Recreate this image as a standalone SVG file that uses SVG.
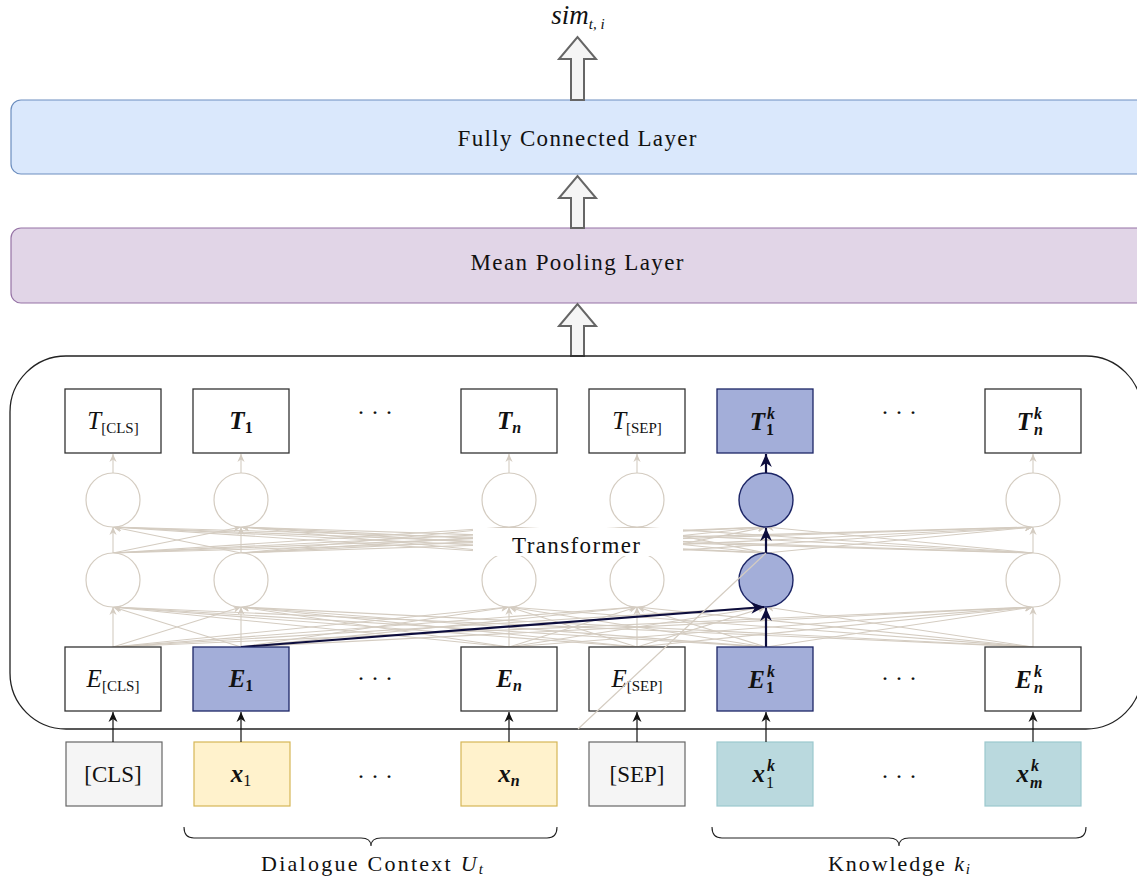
<svg xmlns="http://www.w3.org/2000/svg" width="1137" height="876" viewBox="0 0 1137 876" font-family="'Liberation Serif', 'DejaVu Serif', serif">
  <style>
    text { font-family: "Liberation Serif", "DejaVu Serif", serif; fill: #111; }
    .i { font-style: italic; }
    .bi { font-style: italic; font-weight: bold; }
    .b { font-weight: bold; }
    .lbl { font-size: 25px; }
    .sub { font-size: 16px; }
    .tsub { font-size: 15px; }
    .f { stroke: #d4ccc1; stroke-width: 1.1; fill: none; marker-end: url(#ah-light); }
    .v { stroke: #d4ccc1; stroke-width: 1.1; fill: none; marker-end: url(#ah-light); }
    .h { stroke: #0d0d3d; stroke-width: 2.2; fill: none; marker-end: url(#ah-dark); }
    .in { stroke: #111; stroke-width: 1.2; fill: none; marker-end: url(#ah-black); }
    .box { fill: #ffffff; stroke: #333333; stroke-width: 1.3; }
    .hbox { fill: #a3aed9; stroke: #1c2566; stroke-width: 1.3; }
    .node { fill: #ffffff; stroke: #d4ccc1; stroke-width: 1.2; }
    .hnode { fill: #a3aed9; stroke: #1c2566; stroke-width: 1.4; }
    .tok { fill: #f5f5f5; stroke: #666666; stroke-width: 1.2; }
    .ctx { fill: #fff2cc; stroke: #d6b656; stroke-width: 1.2; }
    .kn { fill: #bad9de; stroke: #9cc8ce; stroke-width: 1.2; }
    .fat { fill: #f5f5f5; stroke: #666666; stroke-width: 2; }
    .dots { font-size: 24px; }
    .brace { fill: none; stroke: #222; stroke-width: 1.1; }
  </style>
  <defs>
    <marker id="ah-light" viewBox="0 0 10 10" refX="10" refY="5" markerWidth="8" markerHeight="8" markerUnits="userSpaceOnUse" orient="auto">
      <path d="M0,0.5 L10,5 L0,9.5 L3,5 z" fill="#d4ccc1"/>
    </marker>
    <marker id="ah-dark" viewBox="0 0 10 10" refX="10" refY="5" markerWidth="13" markerHeight="13" markerUnits="userSpaceOnUse" orient="auto">
      <path d="M0,0.5 L10,5 L0,9.5 L3,5 z" fill="#0d0d3d"/>
    </marker>
    <marker id="ah-black" viewBox="0 0 10 10" refX="10" refY="5" markerWidth="10" markerHeight="10" markerUnits="userSpaceOnUse" orient="auto">
      <path d="M0,0.5 L10,5 L0,9.5 L3,5 z" fill="#111"/>
    </marker>
  </defs>

  <rect width="1137" height="876" fill="#ffffff"/>

  <!-- output score -->
  <g id="output">
    <text x="578" y="24" text-anchor="middle" font-size="27" class="i">sim<tspan font-size="15" dy="5">t, i</tspan></text>
  </g>

  <!-- classifier head -->
  <g id="fc-layer">
    <rect x="11" y="100" width="1140" height="74" rx="10" fill="#dae8fc" stroke="#6c8ebf" stroke-width="1.2"/>
    <text x="577" y="146" text-anchor="middle" font-size="23" textLength="239" lengthAdjust="spacing">Fully Connected Layer</text>
  </g>
  <g id="pool-layer">
    <rect x="11" y="228" width="1140" height="75" rx="10" fill="#e1d5e7" stroke="#9673a6" stroke-width="1.2"/>
    <text x="577" y="270" text-anchor="middle" font-size="23" textLength="213" lengthAdjust="spacing">Mean Pooling Layer</text>
  </g>

  <!-- hollow block arrows between stages -->
  <g id="block-arrows">
    <path class="fat" d="M571,100 L571,59 L559,59 L577.5,37 L596,59 L584,59 L584,100 Z"/>
    <path class="fat" d="M571,228 L571,198 L559,198 L577.5,176 L596,198 L584,198 L584,228 Z"/>
    <path class="fat" d="M571,356 L571,326 L559,326 L577.5,304 L596,326 L584,326 L584,356 Z"/>
  </g>

  <!-- encoder frame -->
  <g id="encoder">
    <rect x="10" y="356" width="1132" height="373" rx="56" fill="none" stroke="#222" stroke-width="1.3"/>
  </g>

  <g id="connectors">
    <!-- embeddings to first layer -->
    <g id="fan-lower">
      <line class="f" x1="113" y1="647" x2="113" y2="607"/>
      <line class="f" x1="113" y1="647" x2="241" y2="607"/>
      <line class="f" x1="113" y1="647" x2="509" y2="607"/>
      <line class="f" x1="113" y1="647" x2="637" y2="607"/>
      <line class="f" x1="113" y1="647" x2="766" y2="607"/>
      <line class="f" x1="113" y1="647" x2="1033" y2="607"/>
      <line class="f" x1="241" y1="647" x2="113" y2="607"/>
      <line class="f" x1="241" y1="647" x2="241" y2="607"/>
      <line class="f" x1="241" y1="647" x2="509" y2="607"/>
      <line class="f" x1="241" y1="647" x2="637" y2="607"/>
      <line class="f" x1="241" y1="647" x2="1033" y2="607"/>
      <line class="f" x1="509" y1="647" x2="113" y2="607"/>
      <line class="f" x1="509" y1="647" x2="241" y2="607"/>
      <line class="f" x1="509" y1="647" x2="509" y2="607"/>
      <line class="f" x1="509" y1="647" x2="637" y2="607"/>
      <line class="f" x1="509" y1="647" x2="766" y2="607"/>
      <line class="f" x1="509" y1="647" x2="1033" y2="607"/>
      <line class="f" x1="637" y1="647" x2="113" y2="607"/>
      <line class="f" x1="637" y1="647" x2="241" y2="607"/>
      <line class="f" x1="637" y1="647" x2="509" y2="607"/>
      <line class="f" x1="637" y1="647" x2="637" y2="607"/>
      <line class="f" x1="637" y1="647" x2="766" y2="607"/>
      <line class="f" x1="637" y1="647" x2="1033" y2="607"/>
      <line class="f" x1="766" y1="647" x2="113" y2="607"/>
      <line class="f" x1="766" y1="647" x2="241" y2="607"/>
      <line class="f" x1="766" y1="647" x2="509" y2="607"/>
      <line class="f" x1="766" y1="647" x2="637" y2="607"/>
      <line class="f" x1="766" y1="647" x2="1033" y2="607"/>
      <line class="f" x1="1033" y1="647" x2="113" y2="607"/>
      <line class="f" x1="1033" y1="647" x2="241" y2="607"/>
      <line class="f" x1="1033" y1="647" x2="509" y2="607"/>
      <line class="f" x1="1033" y1="647" x2="637" y2="607"/>
      <line class="f" x1="1033" y1="647" x2="766" y2="607"/>
      <line class="f" x1="1033" y1="647" x2="1033" y2="607"/>
    </g>
    <!-- first layer to second layer -->
    <g id="fan-upper">
      <line class="f" x1="113" y1="553" x2="113" y2="527"/>
      <line class="f" x1="113" y1="553" x2="241" y2="527"/>
      <line class="f" x1="113" y1="553" x2="509" y2="527"/>
      <line class="f" x1="113" y1="553" x2="637" y2="527"/>
      <line class="f" x1="113" y1="553" x2="766" y2="527"/>
      <line class="f" x1="113" y1="553" x2="1033" y2="527"/>
      <line class="f" x1="241" y1="553" x2="113" y2="527"/>
      <line class="f" x1="241" y1="553" x2="241" y2="527"/>
      <line class="f" x1="241" y1="553" x2="509" y2="527"/>
      <line class="f" x1="241" y1="553" x2="637" y2="527"/>
      <line class="f" x1="241" y1="553" x2="766" y2="527"/>
      <line class="f" x1="241" y1="553" x2="1033" y2="527"/>
      <line class="f" x1="509" y1="553" x2="113" y2="527"/>
      <line class="f" x1="509" y1="553" x2="241" y2="527"/>
      <line class="f" x1="509" y1="553" x2="509" y2="527"/>
      <line class="f" x1="509" y1="553" x2="637" y2="527"/>
      <line class="f" x1="509" y1="553" x2="766" y2="527"/>
      <line class="f" x1="509" y1="553" x2="1033" y2="527"/>
      <line class="f" x1="637" y1="553" x2="113" y2="527"/>
      <line class="f" x1="637" y1="553" x2="241" y2="527"/>
      <line class="f" x1="637" y1="553" x2="509" y2="527"/>
      <line class="f" x1="637" y1="553" x2="637" y2="527"/>
      <line class="f" x1="637" y1="553" x2="766" y2="527"/>
      <line class="f" x1="637" y1="553" x2="1033" y2="527"/>
      <line class="f" x1="766" y1="553" x2="113" y2="527"/>
      <line class="f" x1="766" y1="553" x2="241" y2="527"/>
      <line class="f" x1="766" y1="553" x2="509" y2="527"/>
      <line class="f" x1="766" y1="553" x2="637" y2="527"/>
      <line class="f" x1="766" y1="553" x2="1033" y2="527"/>
      <line class="f" x1="1033" y1="553" x2="113" y2="527"/>
      <line class="f" x1="1033" y1="553" x2="241" y2="527"/>
      <line class="f" x1="1033" y1="553" x2="509" y2="527"/>
      <line class="f" x1="1033" y1="553" x2="637" y2="527"/>
      <line class="f" x1="1033" y1="553" x2="766" y2="527"/>
      <line class="f" x1="1033" y1="553" x2="1033" y2="527"/>
    </g>
    <!-- second layer to outputs -->
    <g id="to-outputs">
      <line class="v" x1="113" y1="473" x2="113" y2="454"/>
      <line class="v" x1="241" y1="473" x2="241" y2="454"/>
      <line class="v" x1="509" y1="473" x2="509" y2="454"/>
      <line class="v" x1="637" y1="473" x2="637" y2="454"/>
      <line class="v" x1="1033" y1="473" x2="1033" y2="454"/>
    </g>
  </g>

  <!-- hidden units -->
  <g id="units">
    <circle class="node" cx="113" cy="500" r="27"/>
    <circle class="node" cx="241" cy="500" r="27"/>
    <circle class="node" cx="509" cy="500" r="27"/>
    <circle class="node" cx="637" cy="500" r="27"/>
    <circle class="hnode" cx="766" cy="500" r="27"/>
    <circle class="node" cx="1033" cy="500" r="27"/>
    <circle class="node" cx="113" cy="580" r="27"/>
    <circle class="node" cx="241" cy="580" r="27"/>
    <circle class="node" cx="509" cy="580" r="27"/>
    <circle class="node" cx="637" cy="580" r="27"/>
    <circle class="hnode" cx="766" cy="580" r="27"/>
    <circle class="node" cx="1033" cy="580" r="27"/>
  </g>

  <g id="transformer-label">
    <rect x="473" y="528" width="210" height="28" fill="#ffffff"/>
    <text x="576" y="553" text-anchor="middle" font-size="23" textLength="128" lengthAdjust="spacing">Transformer</text>
  </g>

  <!-- highlighted path -->
  <g id="highlight">
    <line class="h" x1="241" y1="647" x2="764" y2="607"/>
    <line class="h" x1="766" y1="647" x2="766" y2="608"/>
    <line class="h" x1="766" y1="553" x2="766" y2="528"/>
    <line class="h" x1="766" y1="473" x2="766" y2="454"/>
  </g>

  <!-- output representations -->
  <g id="t-cls">
    <rect class="box" x="65" y="389" width="96" height="64"/>
    <text class="lbl" x="113" y="429" text-anchor="middle"><tspan class="i">T</tspan><tspan class="tsub" dy="4">[CLS]</tspan></text>
  </g>
  <g id="t-1">
    <rect class="box" x="193" y="389" width="96" height="64"/>
    <text class="lbl" x="241" y="429" text-anchor="middle"><tspan class="bi">T</tspan><tspan class="b sub" dy="4">1</tspan></text>
  </g>
  <g id="t-dots">
    <text class="dots" x="375" y="420" text-anchor="middle">· · ·</text>
  </g>
  <g id="t-n">
    <rect class="box" x="461" y="389" width="96" height="64"/>
    <text class="lbl" x="509" y="429" text-anchor="middle"><tspan class="bi">T</tspan><tspan class="bi sub" dy="4">n</tspan></text>
  </g>
  <g id="t-sep">
    <rect class="box" x="589" y="389" width="96" height="64"/>
    <text class="lbl" x="637" y="429" text-anchor="middle"><tspan class="i">T</tspan><tspan class="tsub" dy="4">[SEP]</tspan></text>
  </g>
  <g id="t-1k">
    <rect class="hbox" x="717" y="389" width="96" height="64"/>
    <text class="lbl bi" x="765" y="430" text-anchor="end">T</text>
    <text class="bi sub" x="767" y="419">k</text>
    <text class="b sub" x="766" y="435">1</text>
  </g>
  <g id="t-kdots">
    <text class="dots" x="899" y="420" text-anchor="middle">· · ·</text>
  </g>
  <g id="t-nk">
    <rect class="box" x="985" y="389" width="96" height="64"/>
    <text class="lbl bi" x="1032" y="430" text-anchor="end">T</text>
    <text class="bi sub" x="1034" y="419">k</text>
    <text class="bi sub" x="1034" y="435">n</text>
  </g>

  <!-- input embeddings -->
  <g id="e-cls">
    <rect class="box" x="65" y="647" width="96" height="64"/>
    <text class="lbl" x="113" y="687" text-anchor="middle"><tspan class="i">E</tspan><tspan class="tsub" dy="4">[CLS]</tspan></text>
  </g>
  <g id="e-1">
    <rect class="hbox" x="193" y="647" width="96" height="64"/>
    <text class="lbl" x="241" y="687" text-anchor="middle"><tspan class="bi">E</tspan><tspan class="b sub" dy="4">1</tspan></text>
  </g>
  <g id="e-dots">
    <text class="dots" x="375" y="686" text-anchor="middle">· · ·</text>
  </g>
  <g id="e-n">
    <rect class="box" x="461" y="647" width="96" height="64"/>
    <text class="lbl" x="509" y="687" text-anchor="middle"><tspan class="bi">E</tspan><tspan class="bi sub" dy="4">n</tspan></text>
  </g>
  <g id="e-sep">
    <rect class="box" x="589" y="647" width="96" height="64"/>
    <text class="lbl" x="637" y="687" text-anchor="middle"><tspan class="i">E</tspan><tspan class="tsub" dy="4">[SEP]</tspan></text>
  </g>
  <g id="e-1k">
    <rect class="hbox" x="717" y="647" width="96" height="64"/>
    <text class="lbl bi" x="765" y="688" text-anchor="end">E</text>
    <text class="bi sub" x="767" y="677">k</text>
    <text class="b sub" x="766" y="693">1</text>
  </g>
  <g id="e-kdots">
    <text class="dots" x="899" y="686" text-anchor="middle">· · ·</text>
  </g>
  <g id="e-nk">
    <rect class="box" x="985" y="647" width="96" height="64"/>
    <text class="lbl bi" x="1032" y="688" text-anchor="end">E</text>
    <text class="bi sub" x="1034" y="677">k</text>
    <text class="bi sub" x="1034" y="693">n</text>
  </g>

  <!-- token inputs -->
  <g id="in-cls">
    <rect class="tok" x="66" y="742" width="96" height="64"/>
    <text x="113" y="782" text-anchor="middle" font-size="23">[CLS]</text>
  </g>
  <g id="in-x1">
    <rect class="ctx" x="194" y="742" width="96" height="64"/>
    <text class="lbl" x="241" y="782" text-anchor="middle"><tspan class="bi">x</tspan><tspan class="sub" dy="4">1</tspan></text>
  </g>
  <g id="in-dots">
    <text class="dots" x="375" y="784" text-anchor="middle">· · ·</text>
  </g>
  <g id="in-xn">
    <rect class="ctx" x="461" y="742" width="96" height="64"/>
    <text class="lbl" x="509" y="782" text-anchor="middle"><tspan class="bi">x</tspan><tspan class="bi sub" dy="4">n</tspan></text>
  </g>
  <g id="in-sep">
    <rect class="tok" x="589" y="742" width="96" height="64"/>
    <text x="637" y="782" text-anchor="middle" font-size="23">[SEP]</text>
  </g>
  <g id="in-x1k">
    <rect class="kn" x="717" y="742" width="96" height="64"/>
    <text class="lbl bi" x="765" y="782" text-anchor="end">x</text>
    <text class="bi sub" x="767" y="771">k</text>
    <text class="sub" x="766" y="788">1</text>
  </g>
  <g id="in-kdots">
    <text class="dots" x="899" y="784" text-anchor="middle">· · ·</text>
  </g>
  <g id="in-xmk">
    <rect class="kn" x="985" y="742" width="96" height="64"/>
    <text class="lbl bi" x="1029" y="782" text-anchor="end">x</text>
    <text class="bi sub" x="1031" y="771">k</text>
    <text class="bi sub" x="1030" y="788">m</text>
  </g>

  <g id="input-arrows">
    <line class="in" x1="113" y1="742" x2="113" y2="712"/>
    <line class="in" x1="241" y1="742" x2="241" y2="712"/>
    <line class="in" x1="509" y1="742" x2="509" y2="712"/>
    <line class="in" x1="637" y1="742" x2="637" y2="712"/>
    <line class="in" x1="766" y1="742" x2="766" y2="712"/>
    <line class="in" x1="1033" y1="742" x2="1033" y2="712"/>
  </g>

  <!-- stray attention edge crossing the [SEP] column -->
  <line x1="578" y1="729" x2="766" y2="553" stroke="#d4ccc1" stroke-width="1.1"/>

  <!-- segment braces -->
  <g id="context-brace">
    <path class="brace" d="M184,827 Q184,838 194,838 L361,838 Q371,838 371,846 Q371,838 381,838 L547,838 Q557,838 557,827"/>
    <text x="372" y="871" text-anchor="middle" font-size="22" textLength="222" lengthAdjust="spacing">Dialogue Context <tspan class="i">U</tspan><tspan class="i" font-size="15" dy="3">t</tspan></text>
  </g>
  <g id="knowledge-brace">
    <path class="brace" d="M712,827 Q712,838 722,838 L889,838 Q899,838 899,846 Q899,838 909,838 L1076,838 Q1086,838 1086,827"/>
    <text x="899" y="871" text-anchor="middle" font-size="22" textLength="142" lengthAdjust="spacing">Knowledge <tspan class="i">k</tspan><tspan class="i" font-size="15" dy="3">i</tspan></text>
  </g>
</svg>
